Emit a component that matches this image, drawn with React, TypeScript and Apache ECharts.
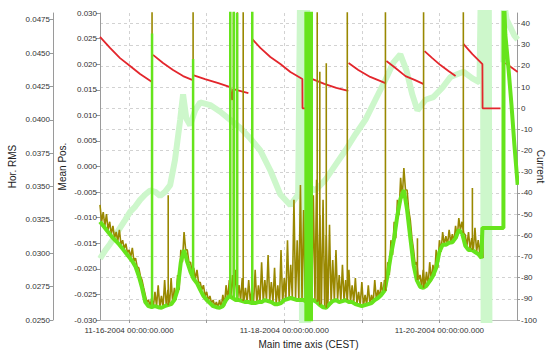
import React, { useEffect, useRef } from "react";
import * as echarts from "echarts";

// Time is expressed in hours relative to 11-16-2004 00:00:00.000 (CEST)
const T_MIN = -9;
const T_MAX = 120;
const dayTickHours = [0, 24, 48, 72, 96];
const dayLabelHours = [0, 48, 96];

const meanPosTicks = [-0.03, 0.03];
const rmsTicks = [0.025, 0.0275, 0.03, 0.0325, 0.035, 0.0375, 0.04, 0.0425, 0.045, 0.0475];
const currentTicks = [-100, -90, -80, -70, -60, -50, -40, -30, -20, -10, 0, 10, 20, 30, 40];

// Mean Pos. (olive) hourly samples from -9 h to 109 h: noise peaks
const posStartHour = -9;
const meanPosPeaks = [
  -0.0075, -0.0089, -0.0093, -0.0108, -0.0116, -0.0128, -0.0124, -0.0144, -0.0151, -0.0163,
  -0.0159, -0.0179, -0.0198, -0.0222, -0.0251, -0.0261, -0.0257, -0.0245, -0.0232, -0.0253,
  -0.0222, -0.0241, -0.0218, -0.0237, -0.0212, -0.0163, -0.0128, -0.0163, -0.0187, -0.0198,
  -0.0202, -0.0226, -0.0232, -0.0245, -0.0253, -0.0261, -0.0265, -0.0261, -0.0251, -0.0232,
  -0.0222, -0.0212, -0.0202, -0.0232, -0.0218, -0.0237, -0.0222, -0.0241, -0.0202, -0.0232,
  -0.0187, -0.0222, -0.0173, -0.0226, -0.0198, -0.0232, -0.0163, -0.0218, -0.0144, -0.0192,
  -0.0065, -0.0144, -0.0036, -0.0085, -0.0046, -0.0007, -0.0056, -0.0026, -0.0095, -0.0065,
  -0.0134, -0.0114, -0.0183, -0.0163, -0.0212, -0.0192, -0.0222, -0.0202, -0.0232, -0.0218,
  -0.0245, -0.0226, -0.0251, -0.0232, -0.0251, -0.0222, -0.0241, -0.0226, -0.0222, -0.0187,
  -0.0144, -0.0108, -0.0065, -0.0022, -0.0003, -0.0046, -0.0105, -0.0163, -0.0187, -0.0212,
  -0.0202, -0.0206, -0.0187, -0.0192, -0.0163, -0.0144, -0.0128, -0.0136, -0.0124, -0.0132,
  -0.0116, -0.0101, -0.0108, -0.0134, -0.0128, -0.0140, -0.0120, -0.0144, -0.0134,
];

// second position signal (bright green), hourly from -9 h to 109 h
const meanPosB = [
  -0.0108, -0.0116, -0.0124, -0.0132, -0.0140, -0.0146, -0.0153, -0.0161, -0.0169, -0.0177,
  -0.0185, -0.0196, -0.0214, -0.0237, -0.0265, -0.0273, -0.0275, -0.0273, -0.0275, -0.0276,
  -0.0273, -0.0271, -0.0269, -0.0261, -0.0241, -0.0187, -0.0163, -0.0187, -0.0206, -0.0220,
  -0.0228, -0.0241, -0.0253, -0.0261, -0.0267, -0.0273, -0.0275, -0.0276, -0.0273, -0.0261,
  -0.0253, -0.0257, -0.0261, -0.0261, -0.0263, -0.0265, -0.0265, -0.0267, -0.0267, -0.0265,
  -0.0265, -0.0261, -0.0263, -0.0265, -0.0269, -0.0269, -0.0267, -0.0261, -0.0259, -0.0257,
  -0.0259, -0.0261, -0.0261, -0.0261, -0.0265, -0.0265, -0.0261, -0.0265, -0.0271, -0.0275,
  -0.0276, -0.0269, -0.0263, -0.0261, -0.0265, -0.0263, -0.0261, -0.0265, -0.0265, -0.0269,
  -0.0271, -0.0273, -0.0271, -0.0269, -0.0267, -0.0261, -0.0257, -0.0251, -0.0243, -0.0212,
  -0.0173, -0.0140, -0.0095, -0.0062, -0.0046, -0.0085, -0.0140, -0.0192, -0.0222, -0.0235,
  -0.0237, -0.0233, -0.0224, -0.0214, -0.0198, -0.0167, -0.0153, -0.0153, -0.0149, -0.0148,
  -0.0140, -0.0124, -0.0130, -0.0155, -0.0163, -0.0163, -0.0167, -0.0171, -0.0179,
];

// end of the record: step and recovery
const tailHours = [109.3, 115.8, 115.85, 116.4, 117.4, 118.3, 119.2, 120.2];
const tailPos = [-0.012, -0.012, 0.035, 0.024, 0.0195, 0.011, 0.0048, -0.003];
const tailPosB = [-0.012, -0.012, 0.035, 0.0257, 0.0189, 0.012, 0.0042, -0.0036];

// isolated excursions of Mean Pos.
const posSpikeHours = [7.1, 12.1, 19.8, 31.3, 32.3, 33.5, 35.3, 38.1, 58.2, 59.0, 61.0, 67.5, 79.3, 89.2, 91.1, 103.4, 106.2];
const posSpikeLow = [-0.0257, -0.0271, -0.022, -0.0253, -0.0257, -0.0261, -0.0263, -0.0267, -0.0265, -0.0271, -0.0276, -0.0261, -0.0243, -0.0222, -0.0237, -0.013, -0.0163];
const posSpikeHigh = [0.035, -0.0056, 0.035, 0.035, 0.035, 0.035, 0.035, 0.035, 0.035, 0.0185, 0.0202, 0.035, 0.035, -0.014, 0.035, 0.035, -0.0042];

const posBSpikeHours = [7.1, 19.8, 31.3, 32.4, 33.4, 38.1, 54.6, 55.3, 55.9, 56.5];
const posBSpikeLow = [-0.0275, -0.022, -0.0253, -0.0257, -0.0261, -0.0267, -0.035, -0.035, -0.035, -0.035];
const posBSpikeHigh = [0.026, 0.021, 0.035, 0.035, 0.03, 0.035, 0.035, 0.035, 0.035, 0.035];

// Hor. RMS (light green)
const rmsHours = [
  -9, -7.4, -5.9, -4.3, -2.8, -1.2, 0.3, 1.9, 3.4, 5.0, 6.5, 8.1, 9.6, 11.1, 12.7, 14.2, 15.8, 16.7, 17.7,
  18.9, 20.4, 22.0, 25.1, 28.2, 31.3, 34.4, 37.5, 40.6, 43.7, 46.8, 49.9, 52.3,
  53.3, 53.5, 53.8, 54.1, 54.4, 54.7, 55.0, 55.3, 55.6,
  57.6, 60.7, 63.8, 66.9, 70.0, 73.1, 76.2, 79.3, 81.8, 83.9, 85.8, 87.6, 89.2, 91.7, 94.1, 96.9, 99.4,
  103.4, 106.2, 108.4, 109.4, 109.7, 110.0, 110.3, 110.6, 110.9, 111.2, 111.5, 113.0,
  115.8, 115.9, 116.8, 118.0, 119.2, 120.2,
];
const rmsValues = [
  0.0296, 0.0302, 0.0307, 0.0313, 0.0319, 0.0325, 0.0331, 0.0335, 0.034, 0.0344, 0.0347, 0.0346, 0.0343, 0.0346, 0.0351, 0.037, 0.04, 0.0419, 0.0401,
  0.0396, 0.0407, 0.0413, 0.0411, 0.0406, 0.04, 0.0394, 0.0386, 0.0377, 0.0362, 0.0344, 0.0336, 0.0344,
  0.06, 0.02, 0.06, 0.02, 0.06, 0.02, 0.06, 0.02, 0.035,
  0.0347, 0.0355, 0.0366, 0.0377, 0.0389, 0.04, 0.0415, 0.043, 0.0443, 0.0449, 0.0437, 0.0419, 0.0407, 0.0415, 0.0417, 0.0424, 0.0432,
  0.0436, 0.0431, 0.0428, 0.06, 0.02, 0.06, 0.02, 0.06, 0.02, 0.06, 0.02, null,
  0.0443, 0.049, 0.0475, 0.0469, 0.0463, 0.046,
];

// Current (red), fills separated by null
const currentHours = [
  -9, -5.9, -2.8, 0.3, 3.4, 7.1, 7.2,
  7.4, 10.5, 13.6, 16.7, 19.5, 19.6,
  19.8, 23.5, 27.6, 31.3, 31.9, 32.2, 36.9, 37.0,
  38.1, 40.6, 43.7, 46.8, 49.9, 53.6, 53.65, 54.5, 54.6,
  56.7, 60.4, 64.1, 67.8, 67.85,
  67.9, 70.9, 74.6, 79.3, 79.4,
  79.6, 82.4, 85.5, 88.3, 91.0, 91.2,
  91.4, 93.8, 96.3, 98.8, 101.0, 101.1,
  103.4, 106.2, 109.3, 109.35, 114.9, 115.0,
  116.4, 120.2,
];
const currentValues = [
  33.7, 28.5, 23.7, 20.0, 16.2, 12.4, null,
  25.2, 21.4, 18.1, 15.2, 13.4, null,
  15.7, 13.8, 11.9, 10.0, 3.9, 9.1, 7.2, null,
  32.7, 28.5, 24.2, 20.9, 17.1, 13.8, 0, 0, null,
  13.8, 11.5, 9.6, 8.2, null,
  21.4, 18.1, 14.8, 11.9, null,
  22.3, 19.0, 15.2, 13.4, 11.5, null,
  27.0, 23.7, 20.4, 17.6, 15.2, null,
  30.4, 25.6, 20.9, 0, 0, null,
  21.4, 17.1,
];

const FONT = "Liberation Sans, Arial, sans-serif";

function dateLabel(h: number): string {
  const d = new Date(Date.UTC(2004, 10, 16) + h * 3600000);
  const mm = String(d.getUTCMonth() + 1).padStart(2, "0");
  const dd = String(d.getUTCDate()).padStart(2, "0");
  return `${mm}-${dd}-${d.getUTCFullYear()} 00:00:00.000`;
}

function spikeData(hours: number[], low: number[], high: number[]) {
  const out: any[] = [];
  hours.forEach((h, i) => {
    out.push([h, low[i]]);
    out.push([h, high[i]]);
    out.push([h, null]);
  });
  return out;
}

export default function App() {
  const ref = useRef<HTMLDivElement>(null);
  useEffect(() => {
    if (!ref.current) return;
    const chart = echarts.init(ref.current, undefined, { renderer: "svg" });

    const olive: any[] = [];
    meanPosPeaks.forEach((v, i) => {
      const h = posStartHour + i;
      olive.push([h, v]);
      olive.push([h + 0.5, meanPosB[i]]);
    });
    tailHours.forEach((h, i) => olive.push([h, tailPos[i]]));

    const green: any[] = meanPosB.map((v, i) => [posStartHour + i, v]);
    tailHours.forEach((h, i) => green.push([h, tailPosB[i]]));

    const rms = rmsHours.map((h, i) => [h, rmsValues[i]]);
    const current = currentHours.map((h, i) => [h, currentValues[i]]);

    const labelStyle = { color: "#333", fontSize: 8, fontFamily: FONT };
    const nameStyle = { color: "#222", fontSize: 10, fontFamily: FONT };
    const axisLine = { show: true, onZero: false, lineStyle: { color: "#9a9a9a", width: 1 } };

    chart.setOption({
      animation: false,
      backgroundColor: "#fff",
      grid: { left: 100, right: 33, top: 13, bottom: 30, containLabel: false, outerBoundsMode: "none" },
      xAxis: {
        type: "value",
        min: T_MIN,
        max: T_MAX,
        name: "Main time axis (CEST)",
        nameLocation: "middle",
        nameGap: 19,
        nameMoveOverlap: false,
        nameTextStyle: nameStyle,
        axisLine: { show: true, onZero: false, lineStyle: { color: "#bbb" } },
        axisTick: { show: true, length: 3, customValues: dayTickHours, lineStyle: { color: "#999" } },
        axisLabel: { ...labelStyle, margin: 6, customValues: dayLabelHours, formatter: (v: number) => dateLabel(v) },
        splitLine: { show: true, lineStyle: { color: "#d2d2d2", type: [3, 3], width: 1 } },
      },
      yAxis: [
        {
          type: "value",
          position: "left",
          min: meanPosTicks[0],
          max: meanPosTicks[1],
          interval: 0.005,
          name: "Mean Pos.",
          nameLocation: "middle",
          nameGap: 33,
          nameRotate: 90,
          nameMoveOverlap: false,
          nameTextStyle: nameStyle,
          axisLine,
          axisTick: { show: true, length: 4, lineStyle: { color: "#999" } },
          axisLabel: { ...labelStyle, margin: 3, formatter: (v: number) => v.toFixed(3) },
          splitLine: { show: false },
        },
        {
          type: "value",
          position: "left",
          offset: 47,
          min: 0.025,
          max: 0.048,
          name: "Hor. RMS",
          nameLocation: "middle",
          nameGap: 36,
          nameRotate: 90,
          nameMoveOverlap: false,
          nameTextStyle: nameStyle,
          axisLine,
          axisTick: { show: true, length: 3, customValues: rmsTicks, lineStyle: { color: "#999" } },
          axisLabel: { ...labelStyle, margin: 3, customValues: rmsTicks, formatter: (v: number) => v.toFixed(4) },
          splitLine: { show: false },
        },
        {
          type: "value",
          position: "right",
          min: -100,
          max: 45,
          name: "Current",
          nameLocation: "middle",
          nameGap: 18,
          nameRotate: -90,
          nameMoveOverlap: false,
          nameTextStyle: nameStyle,
          axisLine,
          axisTick: { show: true, length: 3, customValues: currentTicks, lineStyle: { color: "#999" } },
          axisLabel: { ...labelStyle, margin: 4, customValues: currentTicks, formatter: (v: number) => String(v) },
          splitLine: { show: true, lineStyle: { color: "#d2d2d2", type: [3, 3], width: 1 } },
        },
      ],
      series: [
        {
          name: "Hor. RMS",
          type: "line",
          yAxisIndex: 1,
          data: rms,
          symbol: "none",
          lineStyle: { color: "#cdf7cb", width: 6 },
          z: 1,
        },
        {
          name: "Current",
          type: "line",
          yAxisIndex: 2,
          data: current,
          symbol: "none",
          lineStyle: { color: "#e3262c", width: 1.8 },
          z: 2,
        },
        {
          name: "Mean Pos.",
          type: "line",
          yAxisIndex: 0,
          data: olive,
          symbol: "none",
          lineStyle: { color: "#998800", width: 1.6 },
          z: 3,
        },
        {
          name: "Mean Pos. B",
          type: "line",
          yAxisIndex: 0,
          data: green,
          symbol: "none",
          lineStyle: { color: "#66e41c", width: 4 },
          z: 4,
        },
        {
          name: "Mean Pos. spikes",
          type: "line",
          yAxisIndex: 0,
          data: spikeData(posSpikeHours, posSpikeLow, posSpikeHigh),
          symbol: "none",
          lineStyle: { color: "#998800", width: 1.6 },
          z: 5,
        },
        {
          name: "Mean Pos. B spikes",
          type: "line",
          yAxisIndex: 0,
          data: spikeData(posBSpikeHours, posBSpikeLow, posBSpikeHigh),
          symbol: "none",
          lineStyle: { color: "#66e41c", width: 2.5 },
          z: 6,
        },
      ],
    });
    return () => chart.dispose();
  }, []);
  return <div ref={ref} style={{ width: 550, height: 350, position: "absolute", left: 0, top: 0 }} />;
}
